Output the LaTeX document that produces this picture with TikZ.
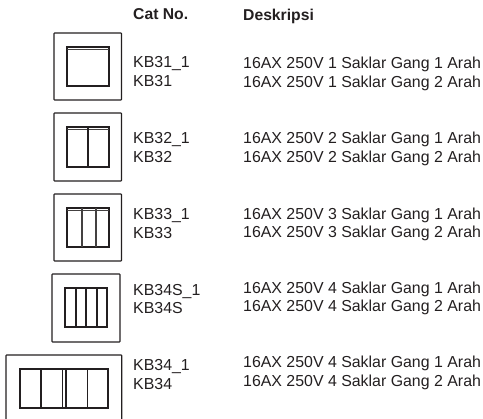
\documentclass[tikz,border=0pt]{standalone}
\usepackage{fontspec}
\setmainfont{Liberation Sans}
\definecolor{ink}{HTML}{231F20}
\tikzset{
 x=1pt,y=-1pt,
 frame/.style={draw=ink,line width=1.1pt,rounded corners=0.6pt},
 inner/.style={draw=ink,line width=1.7pt},
 band/.style={draw=ink!85,line width=1pt},
 div/.style={draw=ink,line width=1.6pt},
 thindiv/.style={draw=ink!85,line width=1.1pt},
 lbl/.style={anchor=base west,inner sep=0pt,text=ink,font=\fontsize{15.9}{18}\selectfont},
 hdr/.style={lbl,font=\fontsize{15.7}{18}\selectfont\bfseries},
}
\begin{document}
\begin{tikzpicture}
\useasboundingbox (0,0) rectangle (483,419);
\node[hdr] (h1) at (133,20) {Cat No.};
\node[hdr] (h2) at (243,20.5) {Deskripsi};
% frames
\draw[frame] (54,33) rectangle (121.5,100);
\draw[inner] (67,47) rectangle (109,86);
\draw[band] (67,49.5) -- (109,49.5);
\draw[frame] (54,113) rectangle (121.5,181);
\draw[inner] (67,127) rectangle (109,167);
\draw[band] (67,129.5) -- (109,129.5);
\draw[div] (88,127) -- (88,167);
\draw[frame] (54,194) rectangle (121.5,261);
\draw[inner] (67,208) rectangle (109,247);
\draw[band] (67,210.5) -- (109,210.5);
\draw[thindiv] (82,208) -- (82,247);
\draw[thindiv] (96,208) -- (96,247);
\draw[frame] (52,274) rectangle (120,342);
\draw[inner] (65,288) rectangle (107,327);
\draw[div] (75.7,288) -- (75.7,327);
\draw[div] (86,288) -- (86,327);
\draw[div] (96.7,288) -- (96.7,327);
\draw[frame] (6,422) -- (6,355) -- (121.7,355) -- (121.7,422);
\draw[inner] (20,369) rectangle (108.3,408);
\draw[div] (41,369) -- (41,408);
\draw[div] (62.3,369) -- (62.3,408);
\draw[div] (65.7,369) -- (65.7,408);
\draw[div] (87.3,369) -- (87.3,408);
% codes
\node[lbl] (a1) at (133,68) {KB31\_1};
\node[lbl] (a2) at (133,87) {KB31};
\node[lbl] (b1) at (133,144) {KB32\_1};
\node[lbl] (b2) at (133,163) {KB32};
\node[lbl] (c1) at (133,220) {KB33\_1};
\node[lbl] (c2) at (133,239) {KB33};
\node[lbl] (d1) at (133,296) {KB34S\_1};
\node[lbl] (d2) at (133,314) {KB34S};
\node[lbl] (e1) at (133,371) {KB34\_1};
\node[lbl] (e2) at (133,390) {KB34};
% descriptions
\node[lbl] (p1) at (243,69) {16AX 250V 1 Saklar Gang 1 Arah};
\node[lbl] (p2) at (243,88) {16AX 250V 1 Saklar Gang 2 Arah};
\node[lbl] (q1) at (243,144) {16AX 250V 2 Saklar Gang 1 Arah};
\node[lbl] (q2) at (243,163) {16AX 250V 2 Saklar Gang 2 Arah};
\node[lbl] (r1) at (243,219.5) {16AX 250V 3 Saklar Gang 1 Arah};
\node[lbl] (r2) at (243,238) {16AX 250V 3 Saklar Gang 2 Arah};
\node[lbl] (s1) at (243,294) {16AX 250V 4 Saklar Gang 1 Arah};
\node[lbl] (s2) at (243,312) {16AX 250V 4 Saklar Gang 2 Arah};
\node[lbl] (t1) at (243,368) {16AX 250V 4 Saklar Gang 1 Arah};
\node[lbl] (t2) at (243,387) {16AX 250V 4 Saklar Gang 2 Arah};
\end{tikzpicture}
\end{document}
